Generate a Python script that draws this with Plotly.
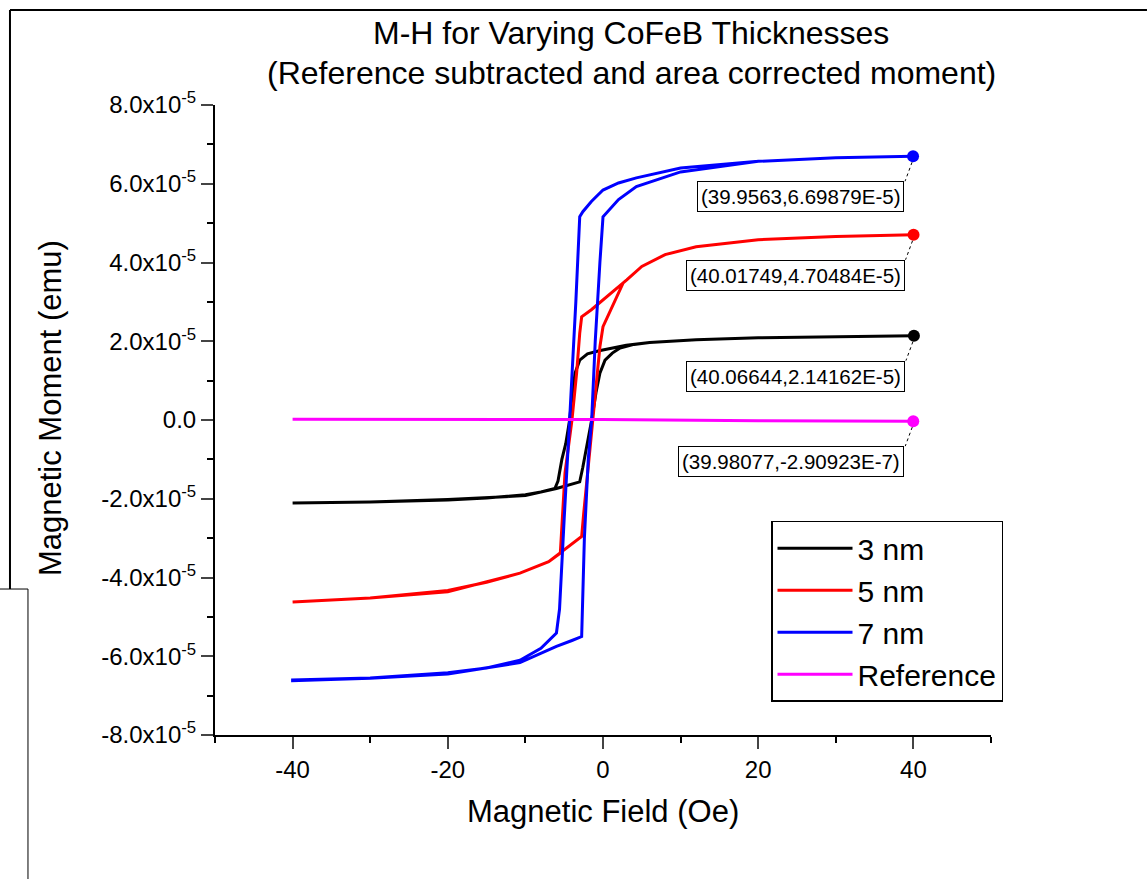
import plotly.graph_objects as go

SCALE = 1e-5  # moments below are in units of 1e-5 emu

# ---- 3 nm ----
h3_desc = [40.06644, 30, 20, 12, 6, 3, 1, -0.5, -2, -3, -3.6, -4.0, -4.3, -4.8, -5.3, -5.8, -6.2, -8, -10, -15, -20, -30, -40]
m3_desc = [2.14162, 2.12, 2.09, 2.04, 1.97, 1.90, 1.83, 1.76, 1.68, 1.52, 1.19, 0.6, 0.0, -0.6, -1.0, -1.55, -1.74, -1.83, -1.90, -1.98, -2.03, -2.08, -2.11]
h3_asc = [-40, -30, -20, -10, -6, -4.5, -3.0, -2.6, -2.1, -1.46, -0.9, -0.4, 0.26, 1.2, 2.2, 4, 6, 12, 20, 30, 40.06644]
m3_asc = [-2.11, -2.08, -2.02, -1.92, -1.74, -1.66, -1.57, -1.2, -0.69, 0.0, 0.7, 1.19, 1.52, 1.70, 1.83, 1.92, 1.97, 2.04, 2.09, 2.12, 2.14162]

# ---- 5 nm ----
h5_desc = [40.01749, 30, 20, 12, 8, 5, 3.06, 1.5, -0.4, -1.5, -2.75, -3.0, -3.4, -4.0, -4.9, -5.2, -5.5, -7, -10.7, -15, -20, -30, -40]
m5_desc = [4.70484, 4.66, 4.58, 4.40, 4.20, 3.90, 3.56, 3.30, 2.97, 2.80, 2.62, 2.20, 1.19, 0.0, -1.35, -2.4, -3.38, -3.60, -3.89, -4.12, -4.33, -4.52, -4.62]
h5_asc = [-40, -30, -20, -10.7, -7, -5.5, -4, -2.75, -2.5, -2.1, -1.3, -0.4, 0.0, 1.2, 2.6, 3.06, 5, 8, 12, 20, 30, 40.01749]
m5_asc = [-4.62, -4.52, -4.36, -3.89, -3.60, -3.38, -3.15, -2.96, -2.4, -1.6, 0.0, 1.86, 2.37, 2.90, 3.48, 3.56, 3.90, 4.20, 4.40, 4.58, 4.66, 4.70484]

# ---- 7 nm ----
h7_desc = [39.9563, 30, 20, 10, 4.3, 2, 0, -1.5, -2.6, -3.0, -3.5, -4.0, -4.3, -5.0, -5.6, -6.0, -8, -10.7, -15, -20, -30, -40]
m7_desc = [6.69879, 6.66, 6.57, 6.40, 6.15, 6.02, 5.84, 5.55, 5.29, 5.16, 3.0, 1.0, 0.0, -2.5, -4.8, -5.41, -5.80, -6.10, -6.30, -6.42, -6.55, -6.60]
h7_asc = [-40, -30, -20, -10.7, -6, -4, -2.75, -2.4, -1.9, -1.46, -1.0, -0.4, 0.0, 2.0, 4.3, 10, 20, 30, 39.9563]
m7_asc = [-6.62, -6.56, -6.45, -6.16, -5.75, -5.60, -5.50, -3.0, -1.0, 0.0, 2.0, 4.0, 5.16, 5.60, 5.93, 6.30, 6.57, 6.66, 6.69879]

# ---- Reference ----
hr_desc = [40, 20, 0, -20, -40]
mr_desc = [-0.03, -0.02, 0.01, 0.02, 0.02]
hr_asc = [-40, -20, 0, 20, 39.98077]
mr_asc = [0.02, 0.02, 0.01, -0.02, -0.0290923]

names = ["3 nm", "5 nm", "7 nm", "Reference"]
colors = ["#000000", "#FF0000", "#0000FF", "#FF00FF"]
end_labels = ["(40.06644,2.14162E-5)", "(40.01749,4.70484E-5)",
              "(39.9563,6.69879E-5)", "(39.98077,-2.90923E-7)"]

y_tickvals = [8, 6, 4, 2, 0, -2, -4, -6, -8]
y_ticktext = ["8.0x10<sup>-5</sup>", "6.0x10<sup>-5</sup>", "4.0x10<sup>-5</sup>",
              "2.0x10<sup>-5</sup>", "0.0", "-2.0x10<sup>-5</sup>", "-4.0x10<sup>-5</sup>",
              "-6.0x10<sup>-5</sup>", "-8.0x10<sup>-5</sup>"]
x_tickvals = [-40, -20, 0, 20, 40]
x_ticktext = ["-40", "-20", "0", "20", "40"]

title_lines = ["M-H for Varying CoFeB Thicknesses",
               "(Reference subtracted and area corrected moment)"]

series = [
    (h3_desc + h3_asc, m3_desc + m3_asc),
    (h5_desc + h5_asc, m5_desc + m5_asc),
    (h7_desc + h7_asc, m7_desc + m7_asc),
    (hr_desc + hr_asc, mr_desc + mr_asc),
]

FONT = "Arial, Liberation Sans, sans-serif"
fig = go.Figure()
for (hx, my), nm, col in zip(series, names, colors):
    fig.add_trace(go.Scatter(x=hx, y=[v * SCALE for v in my], mode="lines", name=nm,
                             line=dict(color=col, width=3)))
annotations = []
shapes = []
for (hx, my), col, lab in zip(series, colors, end_labels):
    xe, ye = hx[-1], my[-1] * SCALE
    fig.add_trace(go.Scatter(x=[xe], y=[ye], mode="markers", showlegend=False,
                             marker=dict(color=col, size=12)))
    annotations.append(dict(x=xe, y=ye, xref="x", yref="y", text=lab, showarrow=False,
                            xanchor="right", yanchor="top", xshift=-9, yshift=-25,
                            font=dict(family=FONT, size=20.5, color="black"),
                            bordercolor="black", borderwidth=1, borderpad=3, bgcolor="white"))
    shapes.append(dict(type="line", xref="x", yref="y", xsizemode="pixel", ysizemode="pixel",
                       xanchor=xe, yanchor=ye, x0=-1, y0=-6, x1=-8, y1=-25,
                       line=dict(color="black", width=1, dash="dot")))

# title lines
for txt, yp in zip(title_lines, [1.1143, 1.0508]):
    annotations.append(dict(x=(631 - 215) / 776, y=yp, xref="paper", yref="paper", text=txt,
                            showarrow=False, xanchor="center", yanchor="middle",
                            font=dict(family=FONT, size=32, color="black")))

# axis titles
annotations.append(dict(x=0.5, y=-0.122, xref="paper", yref="paper", text="Magnetic Field (Oe)",
                        showarrow=False, xanchor="center", yanchor="middle",
                        font=dict(family=FONT, size=31, color="black")))
annotations.append(dict(x=-0.2126, y=0.519, xref="paper", yref="paper", text="Magnetic Moment (emu)",
                        showarrow=False, xanchor="center", yanchor="middle", textangle=-90,
                        font=dict(family=FONT, size=31, color="black")))

# page frame lines
frame = [(-0.2642, 1.1508, 1.201, 1.1508, 2), (-0.2642, 1.1508, -0.2642, 0.2317, 2),
         (-0.2771, 0.2317, -0.241, 0.2317, 1), (-0.241, 0.2317, -0.241, -0.2286, 1)]
for x0, y0, x1, y1, w in frame:
    shapes.append(dict(type="line", xref="paper", yref="paper", x0=x0, y0=y0, x1=x1, y1=y1,
                       line=dict(color="black", width=w)))

fig.update_layout(
    width=1147, height=879, autosize=False,
    margin=dict(l=215, r=156, t=105, b=144),
    paper_bgcolor="white", plot_bgcolor="white",
    font=dict(family=FONT, color="black"),
    xaxis=dict(range=[-50, 50], tickvals=x_tickvals, ticktext=x_ticktext, ticks="outside",
               ticklen=12, tickwidth=1.5,
               showline=True, linecolor="black", linewidth=2, showgrid=False, zeroline=False,
               tickfont=dict(family=FONT, size=24, color="black"),
               minor=dict(dtick=10, tick0=0, ticks="outside", ticklen=6, tickwidth=1.5, tickcolor="black")),
    yaxis=dict(range=[-8e-5, 8e-5], tickvals=[v * SCALE for v in y_tickvals], ticktext=y_ticktext,
               ticks="outside", ticklen=12, tickwidth=1.5,
               showline=True, linecolor="black", linewidth=2, showgrid=False, zeroline=False,
               tickfont=dict(family=FONT, size=24, color="black"),
               minor=dict(dtick=1e-5, tick0=0, ticks="outside", ticklen=6, tickwidth=1.5, tickcolor="black")),
    legend=dict(x=0.7165, y=0.34, xanchor="left", yanchor="top", bgcolor="white",
                bordercolor="black", borderwidth=1.5, itemwidth=75,
                font=dict(family=FONT, size=30, color="black"), tracegroupgap=0),
    annotations=annotations, shapes=shapes,
)
fig.write_html("out.html")
